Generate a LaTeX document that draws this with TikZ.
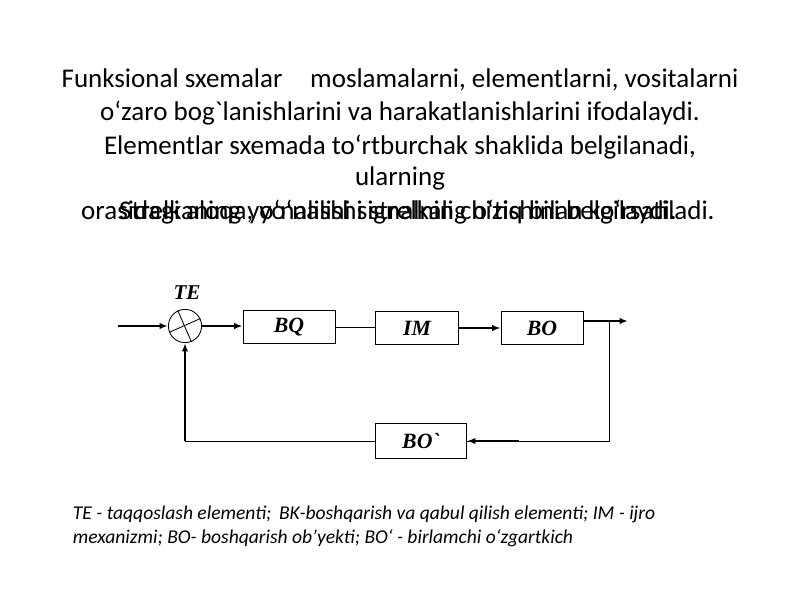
\documentclass[tikz,border=0pt]{standalone}
\usepackage{fontspec}
\setmainfont{Carlito}
\newfontfamily\blokfont{Liberation Serif}
\usetikzlibrary{arrows.meta}

\tikzset{
  matn/.style={anchor=base, font=\fontsize{19.2}{23}\selectfont},
  izoh/.style={anchor=base west, font=\itshape\fontsize{13.9}{16}\selectfont},
  blok/.style={draw, line width=0.6pt, inner sep=0pt, minimum height=0.84cm,
    font=\blokfont\bfseries\itshape\fontsize{15.5}{17}\selectfont},
  sig/.style={line width=1.4pt, -{Latex[length=2.1mm, width=1.6mm]}},
  ingichka/.style={line width=0.6pt},
}

\begin{document}
\begin{tikzpicture}[x=0.025cm, y=-0.025cm]
			\useasboundingbox (0,0) rectangle (800,600);
			% matn
			\node[matn] (q1) at (400,87) {Funksional sxemalar\hspace{0.8em} moslamalarni, elementlarni, vositalarni};
			\node[matn] (q2) at (400,120) {o‘zaro bog\textasciigrave lanishlarini va harakatlanishlarini ifodalaydi.};
			\node[matn] (q3) at (400,154) {Elementlar sxemada to‘rtburchak shaklida belgilanadi,};
			\node[matn] (q4) at (400,185) {ularning};
			\node[matn] (q5) at (398,219) {orasidagi aloqa, yo‘nalishi strelkali chiziq bilan ko‘rsatiladi.};
			\node[matn] (q6) at (398,219) {Strelkaning yo‘nalishi signalning o‘tishini belgilaydi.};
			% sxema
			\node[draw, ingichka, circle, minimum size=0.83cm, inner sep=0pt] (TE) at (185,326) {};
			\draw[ingichka] (TE.115) -- (TE.-68);
			\draw[ingichka] (TE.202) -- (TE.26);
			\node[font=\blokfont\bfseries\itshape\fontsize{15}{17}\selectfont] (teL) at (187,293) {TE};
			\node[blok, minimum width=2.3cm] (BQ) at (289,327) {BQ};
			\node[blok, minimum width=2.08cm] (IM) at (417,328) {IM};
			\node[blok, minimum width=2.05cm] (BO) at (542,328) {BO};
			\node[blok, minimum width=2.28cm, minimum height=0.87cm] (BOs) at (421,441) {BO\textasciigrave};
			\coordinate (kir) at (118,326);
			\coordinate (chiq) at (628,321);
			\coordinate (tar) at (609,321);
			\coordinate (qayt) at (185,441);
			\draw[sig] (kir) -- (TE.west);
			\draw[sig] (TE.east) -- (TE.east -| BQ.west);
			\draw[ingichka] (BQ.east) -- (BQ.east -| IM.west);
			\draw[sig] (IM.east) -- (BO.west);
			\draw[sig] (BO.east |- chiq) -- (chiq);
			\draw[ingichka] (tar) -- (tar |- BOs.east) -- (BOs.east);
			\draw[sig] ([xshift=1.3cm]BOs.east) -- (BOs.east);
			\draw[ingichka] (BOs.west) -- (qayt);
			\draw[sig] (qayt) -- (TE.south);
			% izoh
			\node[izoh] (iz1) at (68,519) {TE - taqqoslash elementi;\, BK-boshqarish va qabul qilish elementi; IM - ijro};
			\node[izoh] (iz2) at (68,543) {mexanizmi; BO- boshqarish ob’yekti; BO‘ - birlamchi o‘zgartkich};
\end{tikzpicture}
\end{document}
